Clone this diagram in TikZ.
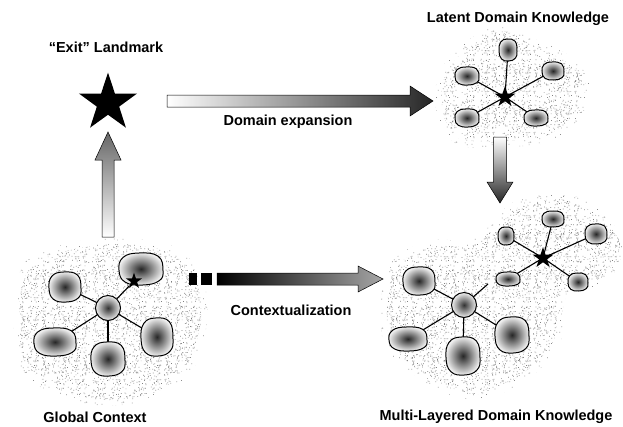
\documentclass[tikz,border=0pt]{standalone}
\usepackage{fontspec}
\setmainfont{Liberation Sans}
\usetikzlibrary{shapes.geometric,calc,patterns}
\pgfdeclarepatternformonly{stip}{\pgfqpoint{0pt}{0pt}}{\pgfqpoint{41pt}{41pt}}{\pgfqpoint{41pt}{41pt}}{%
  \pgfmathsetseed{3}%
  \foreach \k in {1,...,170}{%
    \pgfmathsetmacro\px{40*rnd}\pgfmathsetmacro\py{40*rnd}%
    \pgfpathrectangle{\pgfpoint{\px pt}{\py pt}}{\pgfqpoint{0.75pt}{0.75pt}}%
    \pgfusepath{fill}%
  }%
}
\pgfdeclarepatternformonly{stipsparse}{\pgfqpoint{0pt}{0pt}}{\pgfqpoint{37pt}{37pt}}{\pgfqpoint{37pt}{37pt}}{%
  \pgfmathsetseed{11}%
  \foreach \k in {1,...,40}{%
    \pgfmathsetmacro\px{36*rnd}\pgfmathsetmacro\py{36*rnd}%
    \pgfpathrectangle{\pgfpoint{\px pt}{\py pt}}{\pgfqpoint{0.75pt}{0.75pt}}%
    \pgfusepath{fill}%
  }%
}
\tikzset{
  lbl/.style={font=\fontsize{14.5}{17}\selectfont\bfseries, inner sep=0pt},
  bigstar/.style={star, star points=5, star point ratio=2.6, fill=black, inner sep=0pt},
  blobst/.style={draw=black, line width=1pt, inner color=black!85, outer color=black!6},
  hubst/.style={circle, draw=black, line width=1pt, inner color=black!80, outer color=black!6, inner sep=0pt},
  link/.style={draw=black, line width=1.1pt},
  cloud/.style={pattern=stip, pattern color=black!50},
  cloudedge/.style={pattern=stipsparse, pattern color=black!45},
  arrowline/.style={draw=black, line width=0.5pt},
}
\newcommand\mkblob[5]{% name x y rx ry
  \coordinate (#1) at (#2,#3);
}
\newcommand\drawblob[4]{%
  \path[blobst] plot[smooth cycle, tension=0.75] coordinates {
    ({#1+#3},{#2+0.1*#4}) ({#1+0.78*#3},{#2-0.8*#4}) ({#1-0.1*#3},{#2-#4})
    ({#1-0.82*#3},{#2-0.72*#4}) ({#1-#3},{#2+0.08*#4}) ({#1-0.72*#3},{#2+0.82*#4})
    ({#1+0.08*#3},{#2+#4}) ({#1+0.82*#3},{#2+0.74*#4})};
}
\begin{document}
\begin{tikzpicture}[x=1pt,y=-1pt]
\useasboundingbox (0,0) rectangle (623,426);
\fill[white] (0,0) rectangle (623,426);

% ---------- clouds (stippled) ----------
\path[cloudedge] plot[smooth cycle] coordinates {(14,300) (27,260) (70,243) (120,238) (172,246) (202,275) (207,320) (196,364) (163,396) (110,406) (56,396) (18,363)};
\path[cloud] plot[smooth cycle] coordinates {(20,300) (32,266) (70,250) (120,244) (168,252) (196,278) (201,320) (190,360) (160,390) (110,400) (60,390) (24,360)};

\path[cloudedge] plot[smooth cycle] coordinates {(505,25) (535,39) (571,57) (592,86) (578,120) (548,142) (505,147) (458,145) (438,118) (436,85) (450,56) (478,34)};
\path[cloud] plot[smooth cycle] coordinates {(505,31) (532,45) (566,62) (586,86) (572,116) (546,136) (505,141) (460,139) (444,116) (442,86) (455,60) (480,40)};

\path[cloudedge] plot[smooth cycle] coordinates {(557,193) (596,206) (623,243) (607,282) (566,297) (561,340) (534,374) (483,400) (433,387) (384,344) (387,268) (428,241) (468,240) (493,223) (512,203)};
\path[cloud] plot[smooth cycle] coordinates {(557,199) (592,212) (620,243) (602,277) (560,292) (555,337) (530,368) (483,394) (437,381) (390,342) (393,272) (430,247) (470,246) (497,229) (515,209)};

% ---------- Global context cluster ----------
\coordinate (gc) at (108,308);
\mkblob{gul}{65}{287}{16}{15}
\mkblob{gur}{141}{269}{22}{16}
\mkblob{gl}{55}{342}{21}{14}
\mkblob{gb}{108}{359}{17}{17}
\mkblob{gr}{157}{337}{16}{19}
\draw[link] (gc) -- (gul);
\draw[link] (gc) -- (gl);
\draw[link] (gc) -- (gb);
\draw[link] (gc) -- (gr);
\drawblob{65}{287}{16}{15}
\drawblob{141}{269}{22}{16}
\drawblob{55}{342}{21}{14}
\drawblob{108}{359}{17}{17}
\drawblob{157}{337}{16}{19}
\node[bigstar, minimum size=17pt] (gstar) at (134,281) {};
\node[hubst, minimum size=25pt] (ghub) at (gc) {};
\draw[link] (ghub) -- (gstar);

% ---------- Latent domain knowledge ----------
\coordinate (lc) at (505,97);
\mkblob{lt}{508}{50}{9}{11}
\mkblob{lul}{467}{76}{12}{9}
\mkblob{lur}{553}{71}{11}{9}
\mkblob{lll}{467}{118}{12}{9}
\mkblob{llr}{536}{118}{12}{8}
\foreach \b in {lt,lul,lur,lll,llr} {\draw[link] (lc) -- (\b);}
\drawblob{508}{50}{9}{11}
\drawblob{467}{76}{12}{9}
\drawblob{553}{71}{11}{9}
\drawblob{467}{118}{12}{9}
\drawblob{536}{118}{12}{8}
\node[bigstar, minimum size=22pt] (lstar) at (lc) {};

% ---------- Multi-layered ----------
\coordinate (mc) at (464,305);
\mkblob{mul}{419}{281}{16}{14}
\mkblob{ml}{408}{339}{19}{12}
\mkblob{mb}{463}{356}{17}{19}
\mkblob{mr}{512}{335}{17}{18}
\coordinate (mfree) at (488,284);
\foreach \b in {mul,ml,mb,mr,mfree} {\draw[link] (mc) -- (\b);}
\drawblob{419}{281}{16}{14}
\drawblob{408}{339}{19}{12}
\drawblob{463}{356}{17}{19}
\drawblob{512}{335}{17}{18}
\node[hubst, minimum size=25pt] (mhub) at (mc) {};

\coordinate (ms) at (543,258);
\mkblob{mt}{553}{219}{11}{8}
\mkblob{mu2}{506}{236}{8}{9}
\mkblob{mur}{596}{234}{11}{10}
\mkblob{mll}{508}{279}{12}{7}
\mkblob{mlr}{578}{282}{10}{9}
\foreach \b in {mt,mu2,mur,mll,mlr} {\draw[link] (ms) -- (\b);}
\drawblob{553}{219}{11}{8}
\drawblob{506}{236}{8}{9}
\drawblob{596}{234}{11}{10}
\drawblob{508}{279}{12}{7}
\drawblob{578}{282}{10}{9}
\node[bigstar, minimum size=22pt] (mstar) at (ms) {};

% ---------- Exit landmark ----------
\node[bigstar, minimum size=61pt] (exit) at (108,103) {};

% ---------- arrows ----------
% up arrow
\coordinate (ua) at (108,237);
\coordinate (ub) at (108,132);
\path[arrowline, top color=black!60, bottom color=white]
  ($(ua)+(-6,0)$) -- ($(ub)+(-6,28)$) -- ($(ub)+(-13,28)$) -- (ub)
  -- ($(ub)+(13,28)$) -- ($(ub)+(6,28)$) -- ($(ua)+(6,0)$) -- cycle;
% domain expansion
\coordinate (da) at (167,101);
\coordinate (db) at (433,101);
\path[arrowline, left color=white, right color=black!85]
  ($(da)+(0,-6)$) -- ($(db)+(-23,-6)$) -- ($(db)+(-23,-15)$) -- (db)
  -- ($(db)+(-23,15)$) -- ($(db)+(-23,6)$) -- ($(da)+(0,6)$) -- cycle;
% down arrow
\coordinate (va) at (500,137);
\coordinate (vb) at (500,203);
\path[arrowline, top color=white, bottom color=black!85]
  ($(va)+(-6.5,0)$) -- ($(vb)+(-6.5,-21)$) -- ($(vb)+(-13,-21)$) -- (vb)
  -- ($(vb)+(13,-21)$) -- ($(vb)+(6.5,-21)$) -- ($(va)+(6.5,0)$) -- cycle;
% contextualization
\coordinate (ca) at (217,279);
\coordinate (cb) at (383,279);
\fill[black] (189,273) rectangle (197,285);
\fill[black] (201,273) rectangle (212,285);
\path[arrowline, left color=black, right color=black!35]
  ($(ca)+(0,-6)$) -- ($(cb)+(-25,-6)$) -- ($(cb)+(-25,-13)$) -- (cb)
  -- ($(cb)+(-25,13)$) -- ($(cb)+(-25,6)$) -- ($(ca)+(0,6)$) -- cycle;

% ---------- labels ----------
\node[lbl] (t1) at (106,47) {“Exit” Landmark};
\node[lbl] (t2) at (518,19) {Latent Domain Knowledge};
\node[lbl] (t3) at (288,122) {Domain expansion};
\node[lbl] (t4) at (291,310) {Contextualization};
\node[lbl] (t5) at (95,417) {Global Context};
\node[lbl] (t6) at (496,417) {Multi-Layered Domain Knowledge};
\end{tikzpicture}
\end{document}
